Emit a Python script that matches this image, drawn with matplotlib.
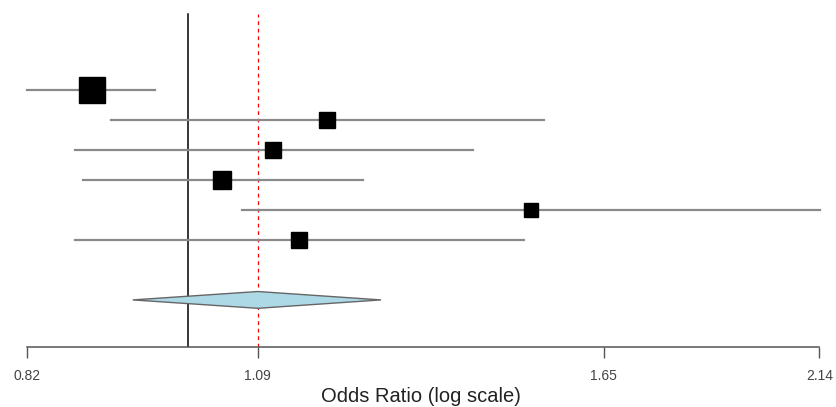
import matplotlib
matplotlib.use("Agg")
import matplotlib.pyplot as plt
from matplotlib.ticker import FixedLocator, NullLocator

plt.rcParams['font.family'] = ['Liberation Sans', 'DejaVu Sans']

# study estimates (odds ratios), top to bottom
est = [0.891, 1.183, 1.108, 1.042, 1.512, 1.143]
ci_lo = [0.824, 0.912, 0.873, 0.881, 1.068, 0.873]
ci_hi = [0.961, 1.536, 1.410, 1.235, 2.141, 1.499]
box_size = [19, 11, 11.5, 13, 9.5, 11.5]   # marker size (weight)

# pooled estimate
pooled = 1.088
pooled_lo = 0.936
pooled_hi = 1.262

tick_pos = [0.824, 1.088, 1.65, 2.139]
tick_labels = ['0.82', '1.09', '1.65', '2.14']

rows = list(range(len(est), 0, -1))
y_pooled = -1
y_bottom = -2.57
y_top = 8.53

fig = plt.figure(figsize=(8.36, 4.07), dpi=100)
ax = fig.add_axes([0, 60 / 407, 1, 347 / 407])
ax.set_xscale('log')
ax.set_xlim(0.7977, 2.1824)
ax.set_ylim(y_bottom, 9)

# reference lines
ax.plot([1, 1], [y_bottom, y_top], color='black', lw=1.1, zorder=1)
ax.plot([pooled, pooled], [y_bottom, y_top], color='red', lw=0.9,
        linestyle=(0, (3, 3)), zorder=1)

# study lines and boxes
for y, e, lo, hi, s in zip(rows, est, ci_lo, ci_hi, box_size):
    ax.plot([lo, hi], [y, y], color='#8a8a8a', lw=1.6, zorder=2)
    ax.plot(e, y, marker='s', color='black', markersize=s, zorder=3)

# pooled diamond
h = 0.28
ax.fill([pooled_lo, pooled, pooled_hi, pooled],
        [y_pooled, y_pooled + h, y_pooled, y_pooled - h],
        facecolor='#add8e6', edgecolor='#666666', lw=1, zorder=3)

for side in ['top', 'right', 'left']:
    ax.spines[side].set_visible(False)
ax.spines['bottom'].set_bounds(tick_pos[0], tick_pos[-1])
ax.spines['bottom'].set_color('#555555')
ax.spines['bottom'].set_linewidth(1.1)
ax.xaxis.set_major_locator(FixedLocator(tick_pos))
ax.xaxis.set_minor_locator(NullLocator())
ax.set_xticklabels(tick_labels)
ax.tick_params(axis='x', length=8, width=1, color='#555555',
               labelsize=10, labelcolor='#444444', pad=8)
ax.set_yticks([])

fig.text(421 / 836, 1 - 396 / 407, 'Odds Ratio (log scale)', ha='center',
         va='center', fontsize=14.5, color='#222222')

fig.savefig('out.png', dpi=100)
